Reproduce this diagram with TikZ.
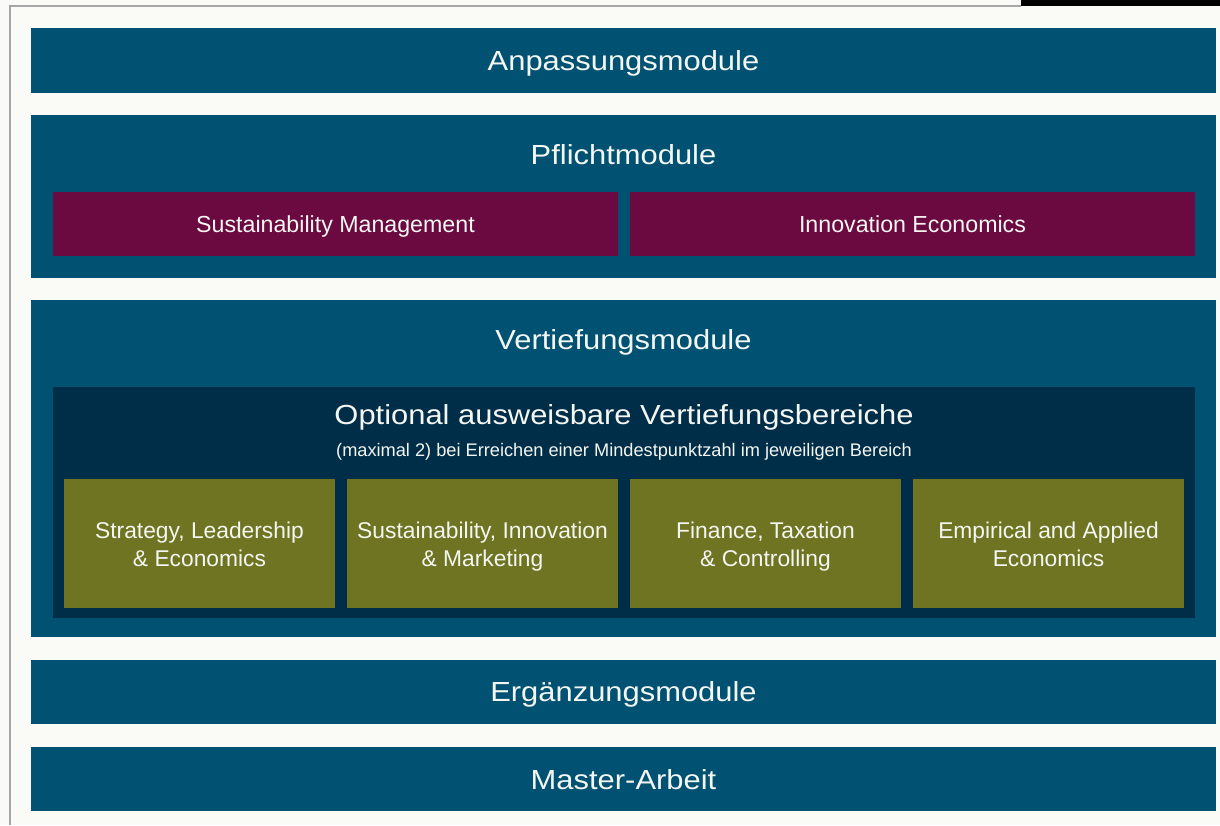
\documentclass[tikz,border=0pt]{standalone}
\usepackage{fontspec}
\setmainfont{Liberation Sans}
\newfontfamily\titlefont[FakeStretch=1.12]{Liberation Sans}
\definecolor{bg}{HTML}{FAFAF6}
\definecolor{teal}{HTML}{005172}
\definecolor{plum}{HTML}{6A0A40}
\definecolor{navy}{HTML}{002D47}
\definecolor{olive}{HTML}{6E7421}
\definecolor{txt}{HTML}{F4F6F2}
\tikzset{
  band/.style={fill=teal, draw=none},
  title/.style={text=txt, font=\titlefont\fontsize{27.6}{32}\selectfont, inner sep=0pt, anchor=base},
  sub/.style={text=txt, font=\fontsize{23.2}{28}\selectfont, inner sep=0pt, anchor=base},
  oli/.style={text=txt, font=\fontsize{22.8}{28}\selectfont, inner sep=0pt, anchor=base},
  small/.style={text=txt, font=\fontsize{18.2}{22}\selectfont, inner sep=0pt, anchor=base},
}
\begin{document}
\begin{tikzpicture}[x=1pt,y=-1pt]
\useasboundingbox (0,0) rectangle (1220,825);
\fill[bg] (0,0) rectangle (1220,825);
% screenshot edges
\draw[gray!70, line width=1.2pt] (10,825) -- (10,6) -- (1021,6);
\fill[black] (1021,0) rectangle (1220,6);
% Anpassungsmodule
\fill[band] (31,28) rectangle (1216,93);
\node[title] (anp) at (623.5,70.3) {Anpassungsmodule};
% Pflichtmodule
\fill[band] (31,115) rectangle (1216,278);
\node[title] (pfl) at (623.5,164) {Pflichtmodule};
\fill[plum] (53,192) rectangle (618,256);
\node[sub] (sm) at (335.5,232.3) {Sustainability Management};
\fill[plum] (630,192) rectangle (1195,256);
\node[sub] (ie) at (912.5,232.3) {Innovation Economics};
% Vertiefungsmodule
\fill[band] (31,300) rectangle (1216,637);
\node[title] (vert) at (623.5,349) {Vertiefungsmodule};
\fill[navy] (53,387) rectangle (1195,618);
\node[title] (opt) at (624,424.3) {Optional ausweisbare Vertiefungsbereiche};
\node[small] (max) at (624,456) {(maximal 2) bei Erreichen einer Mindestpunktzahl im jeweiligen Bereich};
\fill[olive] (64,479) rectangle (335,608);
\node[oli] (b1a) at (199.5,538.3) {Strategy, Leadership};
\node[oli] (b1b) at (199.5,566) {\& Economics};
\fill[olive] (347,479) rectangle (618,608);
\node[oli] (b2a) at (482.5,538.3) {Sustainability, Innovation};
\node[oli] (b2b) at (482.5,566) {\& Marketing};
\fill[olive] (630,479) rectangle (901,608);
\node[oli] (b3a) at (765.5,538.3) {Finance, Taxation};
\node[oli] (b3b) at (765.5,566) {\& Controlling};
\fill[olive] (913,479) rectangle (1184,608);
\node[oli] (b4a) at (1048.5,538.3) {Empirical and Applied};
\node[oli] (b4b) at (1048.5,566) {Economics};
% Ergänzungsmodule
\fill[band] (31,660) rectangle (1216,724);
\node[title] (erg) at (623.5,701.5) {Ergänzungsmodule};
% Master-Arbeit
\fill[band] (31,747) rectangle (1216,811);
\node[title] (ma) at (623.5,789) {Master-Arbeit};
\end{tikzpicture}
\end{document}
